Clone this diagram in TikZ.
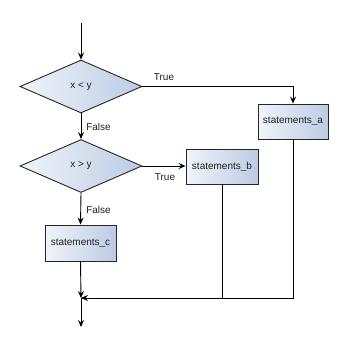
\documentclass[tikz,border=0pt]{standalone}
\usepackage{fontspec}
\setmainfont{Liberation Sans}
\usetikzlibrary{shapes.geometric,arrows.meta}
\definecolor{fillL}{HTML}{F0F4FA}
\definecolor{fillR}{HTML}{BCCBE3}
\definecolor{txt}{HTML}{202020}
\begin{document}
\begin{tikzpicture}[x=1pt,y=-1pt,
  every node/.style={font=\fontsize{10}{12}\selectfont, text=txt},
  shade/.style={left color=fillL, right color=fillR},
  dec/.style={draw=black!85, line width=0.9pt, shade, diamond, aspect=2.3, inner sep=0pt, minimum width=122pt, minimum height=53pt},
  stmt/.style={draw=black!85, line width=0.9pt, shade, rectangle, inner sep=0pt, minimum height=35pt},
  conn/.style={draw=black, line width=0.9pt},
  arr/.style={conn, -{Stealth[length=7pt,width=6pt,inset=2.5pt]}},
  lbl/.style={inner sep=0pt}
]
\useasboundingbox (0,0) rectangle (346,340);
\coordinate (s) at (81,23);
\node[dec] (d1) at (81,86.5) {x < y};
\node[dec] (d2) at (81,166) {x > y};
\node[stmt, minimum width=70pt] (a) at (293,121.5) {statements\_a};
\node[stmt, minimum width=72pt] (b) at (222,166.5) {statements\_b};
\node[stmt, minimum width=71pt, minimum height=36pt] (c) at (80.5,243) {statements\_c};
\coordinate (j) at (81,298);
\coordinate (e) at (81,327);
\coordinate (ja) at (293,298);
\coordinate (jb) at (222,298);

\draw[arr] (s) -- (d1.north);
\draw[arr] (d1.east) -| (a.north);
\draw[arr] (d1.south) -- (d2.north);
\draw[arr] (d2.east) -- (d2.east -| b.west);
\draw[arr] (d2.south) -- (c.north);
\draw[arr] (c.south) -- (j);
\draw[arr] (a.south) -- (ja) -- (j);
\draw[conn] (b.south) -- (jb);
\draw[arr] (j) -- (e);

\node[lbl] (t1) at (164,77) {True};
\node[lbl] (f1) at (98.5,127) {False};
\node[lbl] (t2) at (165,177) {True};
\node[lbl] (f2) at (98.5,210) {False};
\end{tikzpicture}
\end{document}
